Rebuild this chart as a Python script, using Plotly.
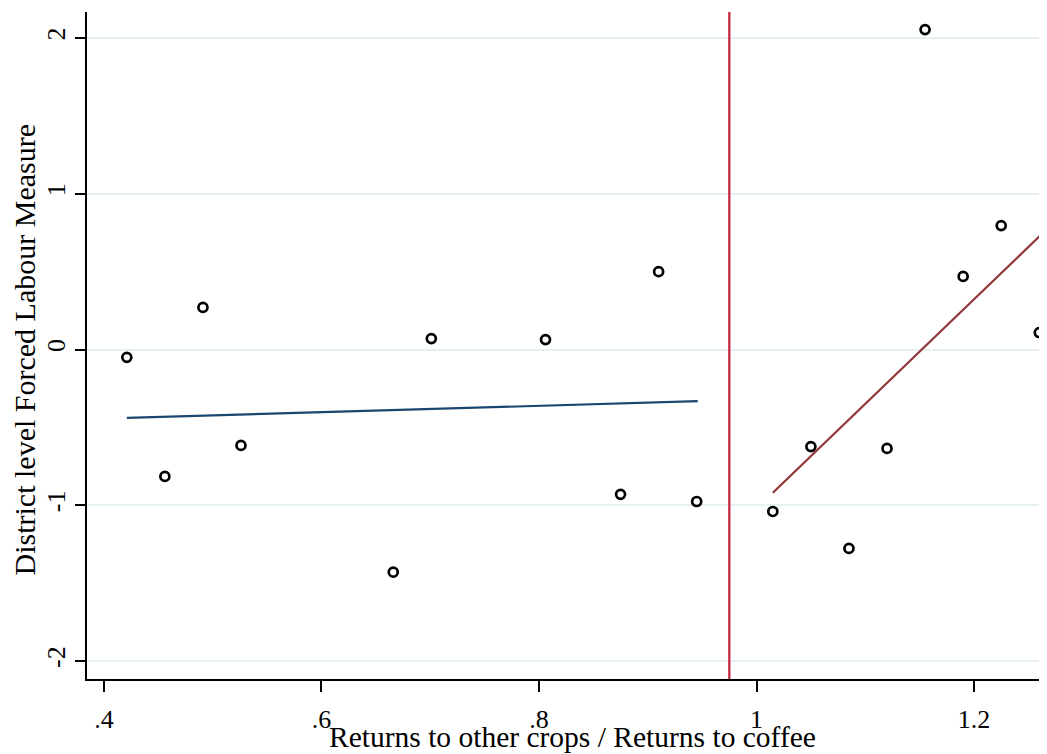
import plotly.graph_objects as go

# Data
x_left = [0.421, 0.456, 0.491, 0.526, 0.666, 0.701, 0.806, 0.875, 0.910, 0.945]
y_left = [-0.05, -0.815, 0.27, -0.616, -1.43, 0.07, 0.064, -0.93, 0.50, -0.976]
x_right = [1.015, 1.050, 1.085, 1.120, 1.155, 1.190, 1.225, 1.260]
y_right = [-1.04, -0.623, -1.277, -0.635, 2.054, 0.469, 0.796, 0.109]

fit_left_x = [0.421, 0.946]
fit_left_y = [-0.439, -0.332]
fit_right_x = [1.015, 1.261]
fit_right_y = [-0.92, 0.732]

cutoff = 0.975

x_ticks = [0.4, 0.6, 0.8, 1.0, 1.2]
x_ticklabels = [".4", ".6", ".8", "1", "1.2"]
y_ticks = [-2, -1, 0, 1, 2]
y_ticklabels = ["-2", "-1", "0", "1", "2"]

x_title = "Returns to other crops / Returns to coffee"
y_title = "District level Forced Labour Measure"

FONT = "Liberation Serif"

fig = go.Figure()

fig.add_trace(go.Scatter(
    x=x_left + x_right, y=y_left + y_right, mode="markers",
    marker=dict(symbol="circle-open", size=9, color="black", line=dict(width=2.7, color="black")),
    showlegend=False, hoverinfo="skip", cliponaxis=False))

fig.add_trace(go.Scatter(x=fit_left_x, y=fit_left_y, mode="lines",
                         line=dict(color="#1a476f", width=2.2), showlegend=False))
fig.add_trace(go.Scatter(x=fit_right_x, y=fit_right_y, mode="lines",
                         line=dict(color="#90353b", width=2.2), showlegend=False))

fig.add_vline(x=cutoff, line=dict(color="#c41e3a", width=2.2), layer="above")

fig.update_layout(
    width=1039, height=746,
    margin=dict(l=79, r=0, t=4, b=75),
    paper_bgcolor="white", plot_bgcolor="white",
    font=dict(family=FONT, color="black", size=22),
    xaxis=dict(range=[0.3844, 1.2671], tickvals=x_ticks, ticktext=x_ticklabels,
               showgrid=False, zeroline=False, showline=True, linecolor="black", linewidth=2,
               ticks="outside", ticklen=11, tickwidth=2, tickcolor="black",
               tickfont=dict(family=FONT, size=26), ticklabelstandoff=5),
    yaxis=dict(range=[-2.1156, 2.167], tickvals=y_ticks, ticktext=y_ticklabels,
               showgrid=True, gridcolor="#e6eff1", gridwidth=2, zeroline=False,
               showline=True, linecolor="black", linewidth=2,
               ticks="outside", ticklen=10, tickwidth=2, tickcolor="black",
               tickangle=-90, tickfont=dict(family=FONT, size=26), ticklabelstandoff=0),
    annotations=[
        dict(text=x_title, xref="paper", yref="paper", x=0.506, y=0, yshift=-58,
             xanchor="center", yanchor="middle", showarrow=False,
             font=dict(family=FONT, size=29.5, color="black")),
        dict(text=y_title, xref="paper", yref="paper", x=0, xshift=-62, y=0.494,
             xanchor="center", yanchor="middle", textangle=-90, showarrow=False,
             font=dict(family=FONT, size=30, color="black")),
    ],
)

fig.write_html("out.html")
